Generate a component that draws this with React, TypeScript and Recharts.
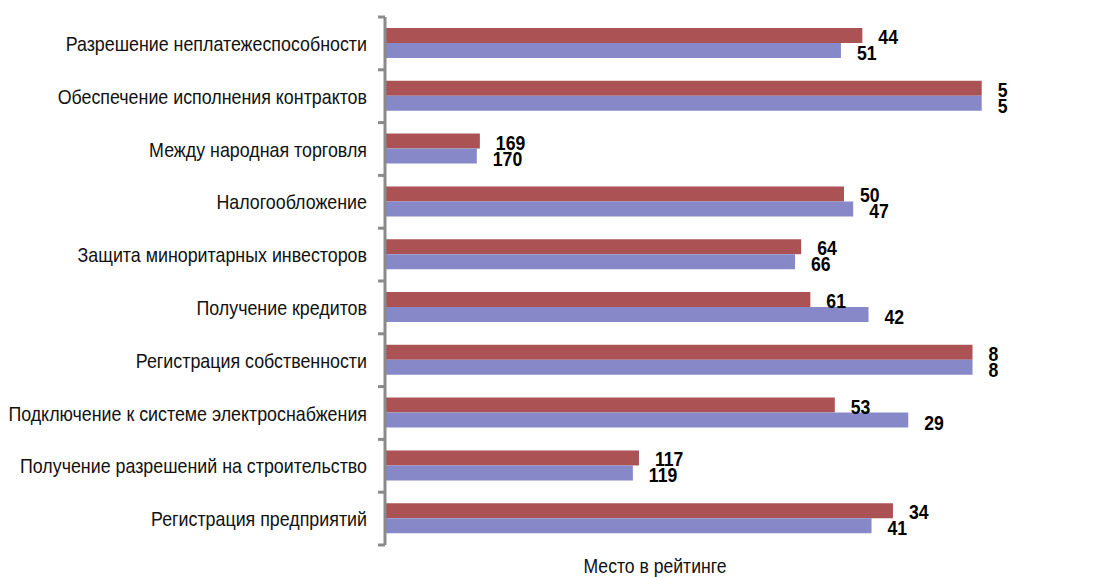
import { BarChart, Bar, XAxis, YAxis, LabelList } from "recharts";

document.body.style.margin = "0";

const categories = [
  "Разрешение неплатежеспособности",
  "Обеспечение исполнения контрактов",
  "Между народная торговля",
  "Налогообложение",
  "Защита миноритарных инвесторов",
  "Получение кредитов",
  "Регистрация собственности",
  "Подключение к системе электроснабжения",
  "Получение разрешений на строительство",
  "Регистрация предприятий",
];
const rankRed = [44, 5, 169, 50, 64, 61, 8, 53, 117, 34];
const rankBlue = [51, 5, 170, 47, 66, 42, 8, 29, 119, 41];
const maxRank = 200;

const data = categories.map((name, i) => ({
  name,
  red: rankRed[i],
  blue: rankBlue[i],
}));

// no narrow font installed, so squeeze Liberation Sans horizontally
const FONT = "'Liberation Sans', Arial, sans-serif";
const AXIS_GRAY = "#8a8a8a";

function CategoryTick(props: any) {
  const { x, y, payload, index } = props;
  const half = payload?.offset ?? 26;
  const axisX = x + 17;
  return (
    <g>
      <text
        transform={`translate(${x - 1},${y}) scale(0.85,1)`}
        textAnchor="end"
        dominantBaseline="central"
        fontFamily={FONT}
        fontSize={21}
        fill="#111"
      >
        {payload.value}
      </text>
      <line x1={axisX - 7} x2={axisX} y1={y - half} y2={y - half} stroke={AXIS_GRAY} strokeWidth={3} />
      {index === categories.length - 1 && (
        <line x1={axisX - 7} x2={axisX} y1={y + half} y2={y + half} stroke={AXIS_GRAY} strokeWidth={3} />
      )}
    </g>
  );
}

const makeLabel = (values: number[], dyShift: number) => (props: any) => {
  const { x, y, width, height, index } = props;
  const endX = Math.max(Number(x), Number(x) + Number(width));
  const cy = Number(y) + Number(height) / 2 + dyShift;
  return (
    <text
      transform={`translate(${endX + 16},${cy}) scale(0.84,1)`}
      dominantBaseline="central"
      fontFamily={FONT}
      fontWeight="bold"
      fontSize={21}
      fill="#000"
    >
      {values[index]}
    </text>
  );
};

function AxisTitle(props: any) {
  const vb = props.viewBox || {};
  const cx = vb.x + vb.width / 2 - 36;
  const by = vb.y + vb.height - 4;
  return (
    <text
      transform={`translate(${cx},${by}) scale(0.88,1)`}
      textAnchor="middle"
      fontFamily={FONT}
      fontSize={20}
      fill="#111"
    >
      Место в рейтинге
    </text>
  );
}

export default function App() {
  return (
    <BarChart
      width={1094}
      height={577}
      data={data}
      layout="vertical"
      margin={{ top: 17, right: 97, bottom: 0, left: 0 }}
      barGap={0}
      barSize={15}
    >
      <XAxis
        type="number"
        domain={[0, maxRank]}
        reversed
        allowDataOverflow
        tick={false}
        tickLine={false}
        axisLine={false}
        height={32}
        label={{ content: <AxisTitle /> }}
      />
      <YAxis
        type="category"
        dataKey="name"
        width={385}
        tickLine={false}
        tickSize={6}
        tickMargin={11}
        tick={<CategoryTick />}
        axisLine={{ stroke: AXIS_GRAY, strokeWidth: 3 }}
        interval={0}
      />
      <Bar dataKey={(d: any) => [d.red, maxRank]} fill="#ab5354" isAnimationActive={false}>
        <LabelList content={makeLabel(rankRed, 1)} />
      </Bar>
      <Bar dataKey={(d: any) => [d.blue, maxRank]} fill="#8688c7" isAnimationActive={false}>
        <LabelList content={makeLabel(rankBlue, 2)} />
      </Bar>
    </BarChart>
  );
}
